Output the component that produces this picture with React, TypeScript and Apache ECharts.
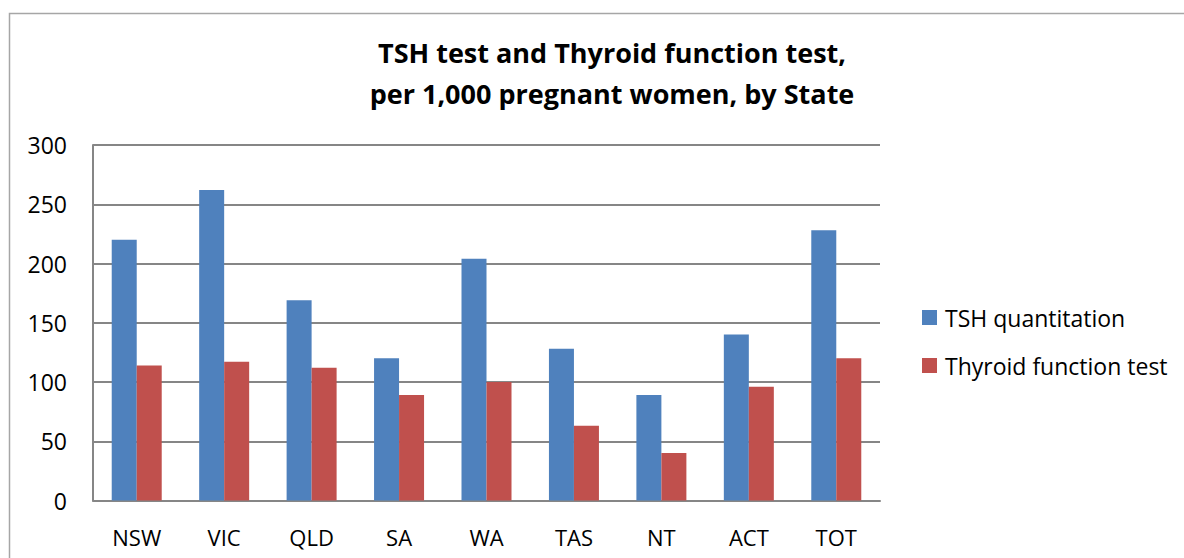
import React, { useEffect, useRef } from "react";
import * as echarts from "echarts";

const categories = ["NSW", "VIC", "QLD", "SA", "WA", "TAS", "NT", "ACT", "TOT"];
const tshValues = [220, 262, 169, 120, 204, 128, 89, 140, 228];
const thyroidValues = [114, 117, 112, 89, 100, 63, 40, 96, 120];
const seriesNames = ["TSH quantitation", "Thyroid function test"];
const yTicks = { min: 0, max: 300, interval: 50 };
const titleLines = ["TSH test and Thyroid function test,", "per 1,000 pregnant women, by State"];

const FONT = "'Open Sans', Lato, sans-serif";

export default function App() {
  const ref = useRef<HTMLDivElement>(null);
  useEffect(() => {
    document.body.style.margin = "0";
    if (!ref.current) return;
    const chart = echarts.init(ref.current, null, { renderer: "svg" });
    chart.setOption({
      animation: false,
      backgroundColor: "#ffffff",
      textStyle: { fontFamily: FONT },
      graphic: [
        {
          type: "rect",
          shape: { x: 9.5, y: 13.5, width: 1300, height: 700 },
          style: { fill: "none", stroke: "#a6a6a6", lineWidth: 1.5 },
          silent: true,
        },
        {
          type: "text",
          x: 612,
          y: 31.5,
          style: {
            text: titleLines.join("\n"),
            fontFamily: FONT,
            fontWeight: "bold",
            fontSize: 27,
            lineHeight: 41,
            fill: "#000000",
            align: "center",
            verticalAlign: "top",
          },
        },
      ],
      legend: {
        orient: "vertical",
        left: 917,
        top: 301,
        itemWidth: 15,
        itemHeight: 15,
        itemGap: 25,
        icon: "rect",
        textStyle: { fontFamily: FONT, fontSize: 23, color: "#000000", padding: [0, 0, 0, 3] },
        data: seriesNames,
      },
      grid: { left: 93, right: 304, top: 145, bottom: 57.5, containLabel: false },
      xAxis: {
        type: "category",
        data: categories,
        axisTick: { show: false },
        axisLine: { show: true, lineStyle: { color: "#868686", width: 2 } },
        axisLabel: { fontFamily: FONT, fontSize: 22, color: "#000000", margin: 25 },
      },
      yAxis: {
        type: "value",
        min: yTicks.min,
        max: yTicks.max,
        interval: yTicks.interval,
        axisLine: { show: true, lineStyle: { color: "#868686", width: 2 } },
        axisTick: { show: false },
        splitLine: { show: true, lineStyle: { color: "#868686", width: 2 } },
        axisLabel: { fontFamily: FONT, fontSize: 23, color: "#000000", margin: 26 },
      },
      series: [
        {
          name: seriesNames[0],
          type: "bar",
          data: tshValues,
          barWidth: 25,
          barGap: "0%",
          itemStyle: { color: "#4F81BD" },
        },
        {
          name: seriesNames[1],
          type: "bar",
          data: thyroidValues,
          barWidth: 25,
          barGap: "0%",
          itemStyle: { color: "#C0504D" },
        },
      ],
    });
    return () => chart.dispose();
  }, []);
  return <div ref={ref} style={{ width: 1184, height: 558 }} />;
}
